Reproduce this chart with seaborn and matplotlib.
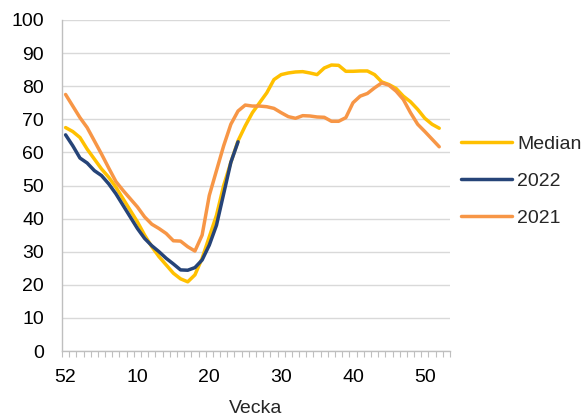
import matplotlib
matplotlib.use('Agg')
import matplotlib.pyplot as plt
import seaborn as sns
import numpy as np
import pandas as pd
from matplotlib.ticker import FixedLocator

sns.set_style('white')
plt.rcParams['font.family'] = ['Liberation Sans', 'DejaVu Sans']

mTickSize = 14
mLabelSize = 14

# week categories: 52 from last year, then 1..53 (53 has no data)
weeks = [52] + list(range(1, 54))
tick_labels = ['52', '10', '20', '30', '40', '50']

median = [67.5, 66.3, 64.5, 61.0, 58.0, 55.0, 52.5, 49.5, 46.0, 42.5,
          39.0, 35.0, 31.5, 28.5, 26.0, 23.5, 21.8, 20.9, 23.0, 28.0,
          34.5, 41.0, 50.0, 57.0, 63.5, 68.0, 72.0, 75.0, 78.0, 82.0,
          83.5, 84.0, 84.3, 84.4, 84.0, 83.5, 85.5, 86.4, 86.3, 84.5,
          84.5, 84.6, 84.6, 83.5, 81.3, 80.5, 79.3, 77.0, 75.3, 73.0,
          70.3, 68.5, 67.3]

y2022 = [65.3, 62.0, 58.3, 56.8, 54.5, 53.0, 50.5, 47.5, 44.0, 40.5,
         37.0, 34.0, 31.8, 30.0, 28.0, 26.3, 24.5, 24.4, 25.2, 27.5,
         32.0, 38.0, 47.5, 57.0, 63.2]

y2021 = [77.5, 74.0, 70.5, 67.5, 63.5, 59.5, 55.3, 51.2, 48.5, 46.0,
         43.5, 40.5, 38.3, 37.0, 35.5, 33.3, 33.2, 31.5, 30.2, 35.0,
         47.0, 54.5, 62.0, 68.5, 72.5, 74.3, 74.0, 74.0, 73.8, 73.3,
         72.0, 70.8, 70.3, 71.1, 71.0, 70.7, 70.6, 69.4, 69.4, 70.5,
         75.0, 77.0, 77.8, 79.5, 81.0, 80.3, 78.5, 76.0, 72.0, 68.5,
         66.3, 64.0, 61.7]

series = {'Median': median, '2022': y2022, '2021': y2021}
colors = {'Median': '#FFC000', '2022': '#264478', '2021': '#F79646'}

rows = []
for name, vals in series.items():
    for i, v in enumerate(vals):
        rows.append({'pos': i, 'week': weeks[i], 'value': v, 'serie': name})
df = pd.DataFrame(rows)

fig = plt.figure(figsize=(5.85, 4.17), dpi=100)
ax = fig.add_axes([62/585, 1-351/417, 388/585, 331/417])

sns.lineplot(data=df, x='pos', y='value', hue='serie', hue_order=list(series),
             palette=colors, linewidth=2.5, sort=False, ax=ax)

ax.set_xlim(-0.5, len(weeks) - 0.5)
ax.set_ylim(0, 100)
ax.set_yticks(np.arange(0, 101, 10))
ax.set_xticks([0, 10, 20, 30, 40, 50])
ax.set_xticklabels(tick_labels)
ax.xaxis.set_minor_locator(FixedLocator(np.arange(-0.5, len(weeks), 1)))

ax.grid(axis='y', color='#D9D9D9', linewidth=1)
ax.grid(axis='x', visible=False)
ax.set_axisbelow(True)
for s in ['top', 'right']:
    ax.spines[s].set_visible(False)
for s in ['left', 'bottom']:
    ax.spines[s].set_color('#BFBFBF')
    ax.spines[s].set_linewidth(1)

ax.tick_params(axis='x', which='major', length=0, pad=13, labelsize=mTickSize, colors='black')
ax.tick_params(axis='x', which='minor', length=4, width=0.8, color='#BFBFBF', bottom=True)
ax.tick_params(axis='y', which='major', length=0, pad=13, labelsize=mTickSize, colors='black')

ax.set_xlabel('Vecka', fontsize=mLabelSize, labelpad=10)
ax.set_ylabel('')

handles, labels = ax.get_legend_handles_labels()
ax.legend(handles, labels, loc='center left', bbox_to_anchor=(461/585, 1-181/417),
          bbox_transform=fig.transFigure, frameon=False, fontsize=mLabelSize,
          handlelength=2.6, handletextpad=0.3, labelspacing=1.0,
          borderpad=0, borderaxespad=0)

plt.savefig('out.png', dpi=100)
